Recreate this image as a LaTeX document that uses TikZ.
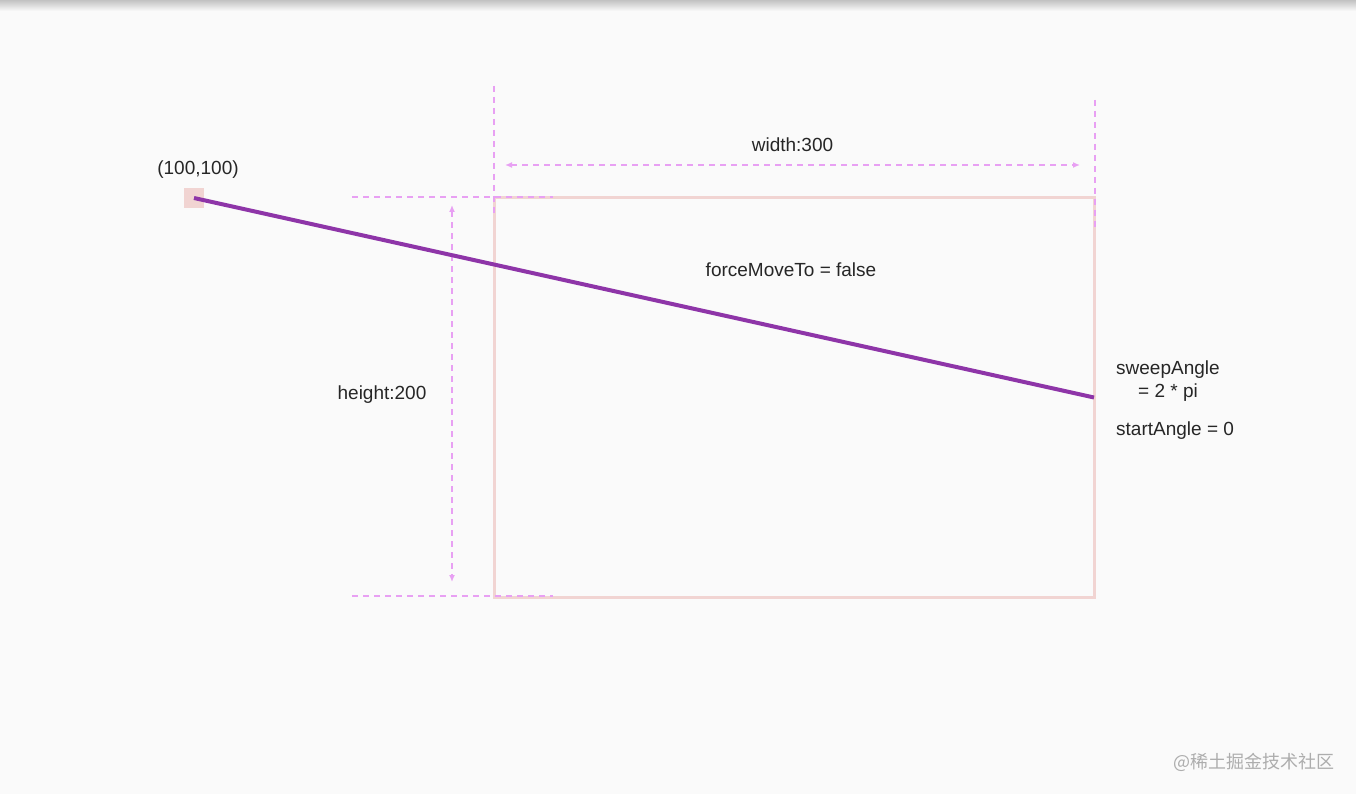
\documentclass[tikz,border=0pt]{standalone}
\usepackage{fontspec}
\setmainfont{Liberation Sans}
\newfontfamily\cjk{Noto Sans CJK SC}
\usetikzlibrary{arrows, arrows.meta, positioning, calc}
\definecolor{bgcol}{RGB}{250,250,250}
\definecolor{rectpink}{RGB}{241,212,210}
\definecolor{dimviolet}{RGB}{232,160,243}
\definecolor{sweepcol}{RGB}{142,53,168}
\tikzstyle{txt} = [font=\fontsize{19}{22}\selectfont, text=black!85, inner sep=0pt]
\tikzstyle{guide} = [dimviolet, line width=1.8pt, dash pattern=on 6pt off 5pt]
\tikzstyle{dimarrow} = [guide, {Latex[length=7pt,width=6pt]}-{Latex[length=7pt,width=6pt]}]
\tikzstyle{sweep} = [sweepcol, line width=4pt]

\begin{document}
\begin{tikzpicture}[x=1pt, y=-1pt]
        % Background
        \fill[bgcol] (0,0) rectangle (1356,794);
        \useasboundingbox (0,0) rectangle (1356,794);
        \shade[top color=black!24, bottom color=bgcol] (0,0) rectangle (1356,11);

        % Oval bounds
        \node[draw=rectpink, line width=3pt, minimum width=600pt, minimum height=399pt, inner sep=0pt, outer sep=0pt, anchor=north west] (oval) at (494,198) {};

        % Start point
        \node[fill=rectpink, minimum size=20pt, inner sep=0pt] (start) at (194,198) {};
        \node[txt, above=9pt of start.north, anchor=south, xshift=4pt] (start_label) {(100,100)};

        % Guide lines
        \coordinate (gl_top) at ($(oval.north west)+(0,-112)$);
        \coordinate (gl_bot) at ($(oval.north west)+(0,17)$);
        \coordinate (gr_top) at ($(oval.north east)+(1,-98)$);
        \coordinate (gr_bot) at ($(oval.north east)+(1,30)$);
        \coordinate (gt_left) at ($(oval.north west)+(-142,-1)$);
        \coordinate (gt_right) at ($(oval.north west)+(59,-1)$);
        \coordinate (gb_left) at ($(oval.south west)+(-142,-1)$);
        \coordinate (gb_right) at ($(oval.south west)+(59,-1)$);
        \draw[guide] (gl_top) -- (gl_bot);
        \draw[guide] (gr_top) -- (gr_bot);
        \draw[guide] (gt_left) -- (gt_right);
        \draw[guide] (gb_left) -- (gb_right);

        % Width
        \coordinate (w_left) at ($(oval.north west)+(11,-33)$);
        \coordinate (w_right) at ($(oval.north east)+(-14,-33)$);
        \draw[dimarrow] (w_left) -- (w_right);
        \node[txt] (width_label) at ($(w_left)!0.5!(w_right)+(0,-20)$) {width:300};

        % Height
        \coordinate (h_top) at ($(oval.north west)+(-42,7)$);
        \coordinate (h_bot) at ($(oval.south west)+(-42,-15)$);
        \draw[dimarrow] (h_top) -- (h_bot);
        \node[txt] (height_label) at ($(h_top)!0.5!(h_bot)+(-70,1)$) {height:200};

        % Sweep line
        \draw[sweep] (start.center) -- (oval.east);

        % Texts
        \node[txt] (force) at (791,270) {forceMoveTo = false};
        \node[txt, anchor=west] (sweep_a) at (1116,370) {sweepAngle};
        \node[txt, anchor=west] (sweep_b) at (1138,393) {= 2 * pi};
        \node[txt, anchor=west] (start_angle) at (1116,431) {startAngle = 0};

        % Watermark
        \node[font=\cjk\fontsize{18}{20}\selectfont, text=black!32, anchor=east, inner sep=0pt] (mark) at (1335,762) {@稀土掘金技术社区};
    \end{tikzpicture}
\end{document}
